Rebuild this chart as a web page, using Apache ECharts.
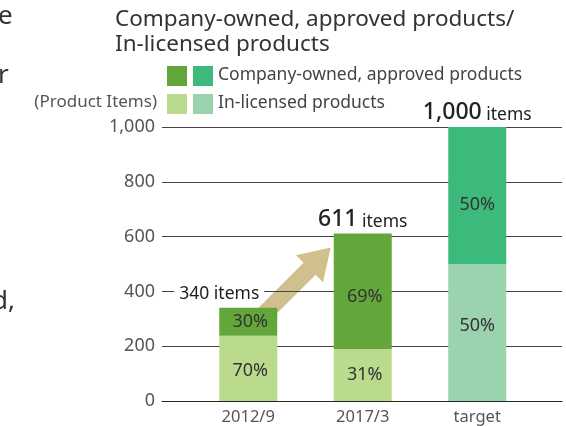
<!DOCTYPE html>
<html>
<head>
<meta charset="utf-8">
<script src="https://cdn.jsdelivr.net/npm/echarts@6/dist/echarts.min.js"></script>
<style>
  html, body { margin: 0; padding: 0; background: #fff; }
  #chart { width: 566px; height: 426px; }
</style>
</head>
<body>
<div id="chart"></div>
<script>
// Product counts by period: total items and the split between
// company-owned/approved products and in-licensed products (in %).
const categories = ['2012/9', '2017/3', 'target'];
const totals = [340, 611, 1000];
const companyShare = [30, 69, 50];
const inLicensedShare = [70, 31, 50];
const yTicks = [0, 200, 400, 600, 800, 1000];

const FONT = '"Noto Sans", "Open Sans", sans-serif';
const colorsCompany = ['#63a73b', '#63a73b', '#3cba7b'];
const colorsLicensed = ['#badb8d', '#badb8d', '#9bd3af'];

const inLicensedValues = totals.map((t, i) => t * inLicensedShare[i] / 100);
const companyValues = totals.map((t, i) => t * companyShare[i] / 100);

const chart = echarts.init(document.getElementById('chart'), null, { renderer: 'canvas' });

const pctOffsets = {
  company: [[2, 0], [2, 6], [0, 9]],
  licensed: [[2, 2], [2, 0], [0, -7]]
};

const option = {
  backgroundColor: '#ffffff',
  animation: false,
  textStyle: { fontFamily: FONT },
  grid: [
    // grid 0 carries the value scale and the horizontal rules
    { left: 162, right: 4, top: 127, bottom: 25 },
    // grid 1 carries the bars
    { left: 191, right: 31.5, top: 127, bottom: 25 }
  ],
  xAxis: [
    {
      gridIndex: 0, type: 'value', min: 0, max: 1,
      axisLine: { show: true, onZero: false, lineStyle: { color: '#1f2a1f', width: 1 } },
      axisTick: { show: false }, axisLabel: { show: false }, splitLine: { show: false }
    },
    {
      gridIndex: 1, type: 'category', data: categories,
      axisLine: { show: false }, axisTick: { show: false },
      axisLabel: { color: '#555', fontSize: 16.5, margin: 8, fontFamily: FONT }
    }
  ],
  yAxis: [
    {
      gridIndex: 0, type: 'value', min: 0, max: 1000, interval: 200,
      axisLine: { show: false }, axisTick: { show: false },
      axisLabel: {
        color: '#555', fontSize: 18, margin: 7, fontFamily: FONT,
        formatter: v => yTicks.includes(v) ? v.toLocaleString('en-US') : ''
      },
      splitLine: { show: true, lineStyle: { color: '#444', width: 1 } }
    },
    {
      gridIndex: 1, type: 'value', min: 0, max: 1000, interval: 200,
      axisLine: { show: false }, axisTick: { show: false },
      axisLabel: { show: false }, splitLine: { show: false }
    }
  ],
  series: [
    {
      name: 'In-licensed products',
      type: 'bar', stack: 'items', xAxisIndex: 1, yAxisIndex: 1,
      barWidth: 58,
      data: inLicensedValues.map((v, i) => ({
        value: v,
        itemStyle: { color: colorsLicensed[i] },
        label: { offset: pctOffsets.licensed[i] }
      })),
      label: {
        show: true, position: 'inside', color: '#333', fontSize: 18, fontFamily: FONT,
        formatter: p => inLicensedShare[p.dataIndex] + '%'
      }
    },
    {
      name: 'Company-owned, approved products',
      type: 'bar', stack: 'items', xAxisIndex: 1, yAxisIndex: 1,
      barWidth: 58,
      data: companyValues.map((v, i) => ({
        value: v,
        itemStyle: { color: colorsCompany[i] },
        label: { offset: pctOffsets.company[i] }
      })),
      label: {
        show: true, position: 'inside', color: '#333', fontSize: 18, fontFamily: FONT,
        formatter: p => companyShare[p.dataIndex] + '%'
      }
    },
    {
      // total labels above each bar (invisible carrier series)
      name: 'total',
      type: 'bar', xAxisIndex: 1, yAxisIndex: 1, barWidth: 58, barGap: '-100%',
      z: 3,
      itemStyle: { color: 'rgba(0,0,0,0)' },
      data: totals.map((t, i) => ({
        value: t,
        label: i === 0 ? {
          show: true, position: 'top', distance: 5, offset: [-29, 0],
          backgroundColor: '#fff', padding: [0, 5],
          formatter: () => '{s|' + t.toLocaleString('en-US') + ' items}'
        } : {
          show: true, position: 'top', distance: 3,
          formatter: () => '{n|' + t.toLocaleString('en-US') + '}{u| items}'
        }
      })),
      label: {
        show: true,
        rich: {
          n: { fontSize: 23, fontWeight: 500, color: '#222', fontFamily: FONT, lineHeight: 26, verticalAlign: 'bottom' },
          u: { fontSize: 17.5, color: '#222', fontFamily: FONT, lineHeight: 26, verticalAlign: 'bottom' },
          s: { fontSize: 17.5, color: '#222', fontFamily: FONT }
        }
      },
      silent: true
    }
  ],
  graphic: [
    // clipped text from the neighbouring column
    { type: 'text', left: -2, top: 4, style: { text: 'e', fontSize: 26, fill: '#333', fontFamily: FONT } },
    { type: 'text', left: -2, top: 63, style: { text: 'r', fontSize: 26, fill: '#333', fontFamily: FONT } },
    { type: 'text', left: -8, top: 289, style: { text: 'd,', fontSize: 26, fill: '#333', fontFamily: FONT } },
    // title
    { type: 'text', left: 115, top: 8, style: { text: 'Company-owned, approved products/', fontSize: 22.5, fill: '#333', fontFamily: FONT } },
    { type: 'text', left: 115, top: 33, style: { text: 'In-licensed products', fontSize: 22.5, fill: '#333', fontFamily: FONT } },
    // legend
    { type: 'rect', shape: { x: 167, y: 66, width: 20, height: 20 }, style: { fill: colorsCompany[0] } },
    { type: 'rect', shape: { x: 193, y: 66, width: 20, height: 20 }, style: { fill: colorsCompany[2] } },
    { type: 'text', left: 218, top: 66, style: { text: 'Company-owned, approved products', fontSize: 17.5, fill: '#444', fontFamily: FONT } },
    { type: 'rect', shape: { x: 167, y: 94, width: 20, height: 20 }, style: { fill: colorsLicensed[0] } },
    { type: 'rect', shape: { x: 193, y: 94, width: 20, height: 20 }, style: { fill: colorsLicensed[2] } },
    { type: 'text', left: 218, top: 94, style: { text: 'In-licensed products', fontSize: 17.5, fill: '#444', fontFamily: FONT } },
    // unit
    { type: 'text', right: 566 - 157, top: 94, style: { text: '(Product Items)', fontSize: 17, fill: '#555', fontFamily: FONT } }
  ]
};

chart.setOption(option);

// Growth arrow from the 2012/9 bar toward the 2017/3 bar
function addArrow() {
  const from = chart.convertToPixel({ xAxisIndex: 1, yAxisIndex: 1 }, [0, 300]);
  const to = chart.convertToPixel({ xAxisIndex: 1, yAxisIndex: 1 }, [1, 560]);
  const tip = [to[0] - 32, to[1]];
  const tail = [from[0] + 10, tip[1] + (tip[0] - from[0] - 10)];
  const dx = tip[0] - tail[0], dy = tip[1] - tail[1];
  const len = Math.hypot(dx, dy);
  const ux = dx / len, uy = dy / len;
  const nx = -uy, ny = ux;
  const shaftW = 17, headW = 38, headL = 30;
  const neck = [tip[0] - ux * headL, tip[1] - uy * headL];
  const pts = [
    [tail[0] + nx * shaftW / 2, tail[1] + ny * shaftW / 2],
    [neck[0] + nx * shaftW / 2, neck[1] + ny * shaftW / 2],
    [neck[0] + nx * headW / 2, neck[1] + ny * headW / 2],
    tip,
    [neck[0] - nx * headW / 2, neck[1] - ny * headW / 2],
    [neck[0] - nx * shaftW / 2, neck[1] - ny * shaftW / 2],
    [tail[0] - nx * shaftW / 2, tail[1] - ny * shaftW / 2]
  ];
  const g = option.graphic.slice();
  g.push({ type: 'polygon', z: -1, shape: { points: pts }, style: { fill: '#cfc08d' } });
  chart.setOption({ graphic: g });
}
addArrow();
</script>
</body>
</html>
